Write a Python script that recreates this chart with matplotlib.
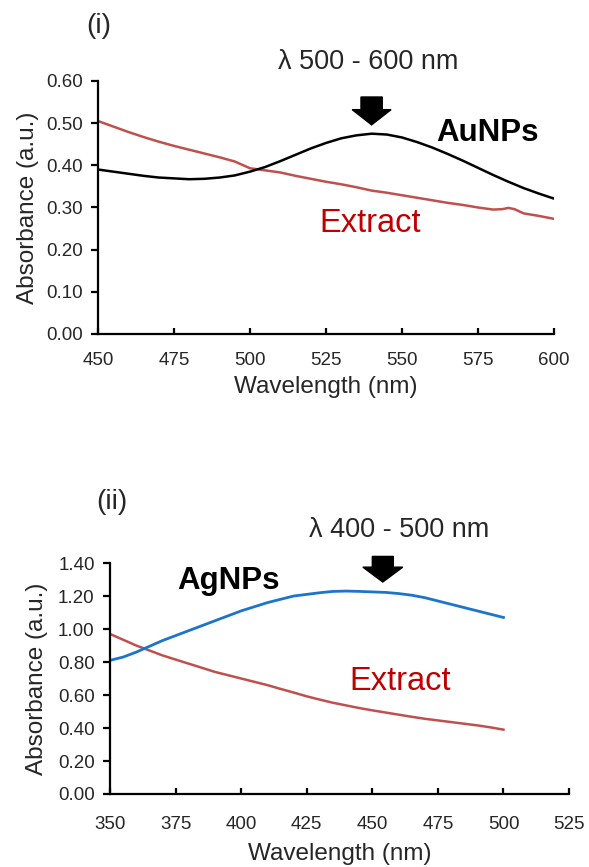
import matplotlib
matplotlib.use("Agg")
import matplotlib.pyplot as plt
from matplotlib.patches import FancyArrow

plt.rcParams["font.family"] = ["Liberation Sans", "DejaVu Sans"]

# (i) gold nanoparticles vs extract
wl_au = [450, 455, 460, 465, 470, 475, 480, 485, 490, 495, 500, 505, 510, 515, 520,
         525, 530, 535, 540, 545, 550, 555, 560, 565, 570, 575, 580, 585, 590, 595, 600]
abs_au = [0.390, 0.385, 0.380, 0.375, 0.371, 0.369, 0.367, 0.368, 0.371, 0.376,
          0.385, 0.396, 0.410, 0.425, 0.440, 0.453, 0.464, 0.471, 0.475, 0.473,
          0.466, 0.455, 0.442, 0.427, 0.411, 0.394, 0.377, 0.361, 0.346, 0.333, 0.321]
wl_ext1 = [450, 455, 460, 465, 470, 475, 480, 485, 490, 495, 500, 505, 510, 515, 520,
           525, 530, 535, 540, 545, 550, 555, 560, 565, 570, 575, 580, 583, 585, 587,
           590, 595, 600]
abs_ext1 = [0.505, 0.492, 0.479, 0.467, 0.456, 0.446, 0.437, 0.428, 0.419, 0.409,
            0.393, 0.388, 0.383, 0.375, 0.368, 0.361, 0.355, 0.348, 0.340, 0.335,
            0.329, 0.323, 0.317, 0.311, 0.306, 0.300, 0.295, 0.296, 0.299, 0.296,
            0.286, 0.280, 0.273]

# (ii) silver nanoparticles vs extract
wl_ag = [350, 355, 360, 365, 370, 375, 380, 385, 390, 395, 400, 405, 410, 415, 420,
         425, 430, 435, 440, 445, 450, 455, 460, 465, 470, 475, 480, 485, 490, 495, 500]
abs_ag = [0.81, 0.83, 0.86, 0.895, 0.93, 0.96, 0.99, 1.02, 1.05, 1.08, 1.11, 1.135,
          1.16, 1.18, 1.20, 1.21, 1.22, 1.228, 1.23, 1.228, 1.225, 1.222, 1.215,
          1.205, 1.19, 1.17, 1.15, 1.13, 1.11, 1.09, 1.07]
wl_ext2 = wl_ag
abs_ext2 = [0.97, 0.935, 0.90, 0.87, 0.84, 0.815, 0.79, 0.765, 0.74, 0.72, 0.70,
            0.68, 0.66, 0.637, 0.615, 0.592, 0.572, 0.553, 0.537, 0.521, 0.507,
            0.494, 0.481, 0.468, 0.456, 0.446, 0.436, 0.426, 0.416, 0.404, 0.39]

RED_LINE = "#C0504D"
RED_TEXT = "#C00000"
BLUE = "#1C75C8"
TICK_COL = "#262626"

fig = plt.figure(figsize=(5.89, 8.67), dpi=100)
ax1 = fig.add_axes([0.1664, 0.6148, 0.7742, 0.2918])
ax2 = fig.add_axes([0.1868, 0.0842, 0.7793, 0.2664])


def style(ax, xpad, xlabelpad, ylabelpad):
    for side in ("top", "right"):
        ax.spines[side].set_visible(False)
    for side in ("left", "bottom"):
        ax.spines[side].set_linewidth(1.6)
        ax.spines[side].set_color("black")
    ax.tick_params(axis="x", direction="in", length=4, width=1.6, labelsize=13.5,
                   pad=xpad, colors="black", labelcolor=TICK_COL)
    ax.tick_params(axis="y", direction="out", length=5, width=1.6, labelsize=13.5,
                   pad=6, colors="black", labelcolor=TICK_COL)
    ax.set_xlabel("Wavelength (nm)", fontsize=17.5, color=TICK_COL,
                  labelpad=xlabelpad)
    ax.set_ylabel("Absorbance (a.u.)", fontsize=17.5, color=TICK_COL,
                  labelpad=ylabelpad)


# panel (i)
ax1.plot(wl_ext1, abs_ext1, color=RED_LINE, lw=1.8)
ax1.plot(wl_au, abs_au, color="black", lw=1.8)
ax1.set_xlim(450, 600)
ax1.set_ylim(0, 0.6)
ax1.set_xticks(range(450, 601, 25))
ax1.set_yticks([0.0, 0.1, 0.2, 0.3, 0.4, 0.5, 0.6])
ax1.set_yticklabels([f"{v:.2f}" for v in ax1.get_yticks()])
style(ax1, xpad=13, xlabelpad=5, ylabelpad=5)
ax1.add_patch(FancyArrow(540, 0.562, 0, -0.066, width=7.0, head_width=12.8,
                         head_length=0.036, length_includes_head=True,
                         color="black", clip_on=False))
ax1.text(450.3, 0.73, "(i)", fontsize=20, ha="center", va="center", color=TICK_COL)
ax1.text(538.8, 0.645, "λ 500 - 600 nm", fontsize=19.5, ha="center", va="center",
         color=TICK_COL)
ax1.text(578, 0.477, "AuNPs", fontsize=22.5, fontweight="bold", ha="center",
         va="center", color="black")
ax1.text(539.5, 0.261, "Extract", fontsize=23.5, ha="center", va="center",
         color=RED_TEXT)

# panel (ii)
ax2.plot(wl_ext2, abs_ext2, color=RED_LINE, lw=1.8)
ax2.plot(wl_ag, abs_ag, color=BLUE, lw=2.0)
ax2.set_xlim(350, 525)
ax2.set_ylim(0, 1.4)
ax2.set_xticks(range(350, 526, 25))
ax2.set_yticks([0.0, 0.2, 0.4, 0.6, 0.8, 1.0, 1.2, 1.4])
ax2.set_yticklabels([f"{v:.2f}" for v in ax2.get_yticks()])
style(ax2, xpad=16, xlabelpad=7, ylabelpad=7)
ax2.add_patch(FancyArrow(454, 1.44, 0, -0.155, width=8.0, head_width=15.2,
                         head_length=0.09, length_includes_head=True,
                         color="black", clip_on=False))
ax2.text(350.8, 1.77, "(ii)", fontsize=20, ha="center", va="center", color=TICK_COL)
ax2.text(460.1, 1.60, "λ 400 - 500 nm", fontsize=19.5, ha="center", va="center",
         color=TICK_COL)
ax2.text(395, 1.29, "AgNPs", fontsize=22.5, fontweight="bold", ha="center",
         va="center", color="black")
ax2.text(460.5, 0.679, "Extract", fontsize=23.5, ha="center", va="center",
         color=RED_TEXT)

fig.savefig("out.png", dpi=100)
